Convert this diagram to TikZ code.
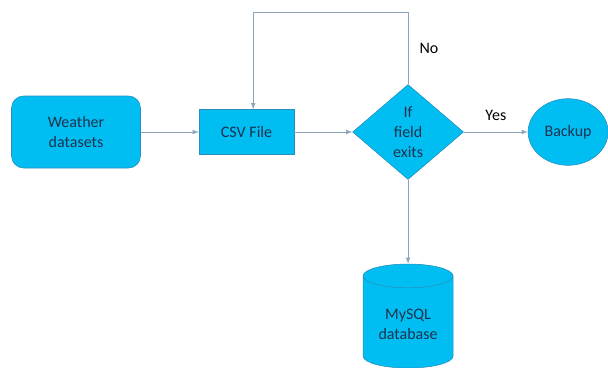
\documentclass[tikz,border=0pt]{standalone}
\usepackage{fontspec}
\setmainfont{Carlito}
\usepackage{xcolor}
\usetikzlibrary{shapes,arrows,positioning,calc}

\definecolor{boxfill}{RGB}{0,190,242}
\definecolor{boxline}{RGB}{40,140,190}
\definecolor{boxtext}{RGB}{30,50,80}
\definecolor{flowline}{RGB}{140,165,190}

\tikzset{
    every node/.style={font=\fontsize{12}{15}\selectfont},
    blockbox/.style={rectangle, draw=boxline, fill=boxfill, text=boxtext, align=center},
    flow/.style={draw=flowline, ->, >=latex, line width=0.6pt},
}

\begin{document}
\begin{tikzpicture}[node distance=43.5pt]
    \useasboundingbox (0,0) rectangle (456pt,-276pt);
    \node (weather) [blockbox, rounded corners=9pt, minimum width=96.75pt, minimum height=54pt] at (57pt,-99pt) {Weather\\datasets};
    \node (csv) [blockbox, right=of weather, minimum width=71.25pt, minimum height=33.75pt] {CSV File};
    \node (check) [diamond, draw=boxline, fill=boxfill, text=boxtext, align=center, inner sep=0pt, minimum width=83.25pt, minimum height=71.25pt, right=of csv] {If\\field\\exits};
    \node (backup) [ellipse, draw=boxline, fill=boxfill, text=boxtext, minimum width=60pt, minimum height=50pt, right=48pt of check] {Backup};
    \node (mysql) [cylinder, shape border rotate=90, aspect=0.35, draw=boxline, fill=boxfill, text=boxtext, align=center, minimum width=67.5pt, minimum height=78pt, below=63pt of check] {MySQL\\database};
    \coordinate (loop) at ($(check.north)+(0,54pt)$);

    \draw [flow] (weather) -- (csv);
    \draw [flow] (csv) -- (check);
    \draw [flow] (check) -- node[above=5pt, text=black] {Yes} (backup);
    \draw [flow] (check) -- (mysql);
    \draw [flow] (check.north) -- node[right=5pt, text=black] {No} (loop) -| ([xshift=5pt]csv.north);
\end{tikzpicture}
\end{document}
